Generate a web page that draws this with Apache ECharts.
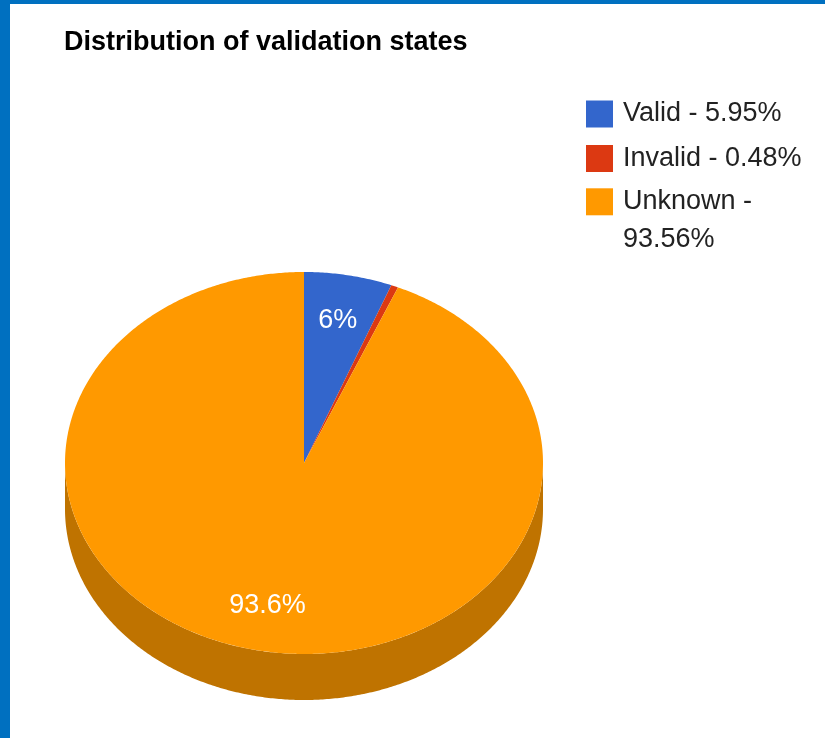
<!DOCTYPE html>
<html><head><meta charset="utf-8">
<script src="https://cdn.jsdelivr.net/npm/echarts@6/dist/echarts.min.js"></script>
<style>
html,body{margin:0;padding:0;background:#fff;}
#chart{position:absolute;left:0;top:0;width:825px;height:738px;}
#bl{position:absolute;left:0;top:0;width:10px;height:738px;background:#0070C0;}
#bt{position:absolute;left:0;top:0;width:825px;height:4px;background:#0070C0;}
</style></head><body>
<div id="chart"></div><div id="bl"></div><div id="bt"></div>
<script>
const titleText = 'Distribution of validation states';
const categories = ['Valid', 'Invalid', 'Unknown'];
const percents = [5.95, 0.48, 93.56];
const legendLabels = ['Valid - 5.95%', 'Invalid - 0.48%', '\nUnknown -\n93.56%'];
const colors = ['#3366CC', '#DC3912', '#FF9900'];
const sideColors = ['#264D99', '#A52B0E', '#BF7300'];

const FONT = '"Liberation Sans", Arial, Helvetica, sans-serif';
const CX = 304, CY = 463, RX = 239, RY = 191, DEPTH = 46, LABEL_R = 0.76;

const total = percents.reduce((a, b) => a + b, 0);
const starts = [];
(function () { let acc = 0; percents.forEach(v => { starts.push(acc / total * 2 * Math.PI); acc += v; }); })();
function angles(i) { return [starts[i], starts[i] + percents[i] / total * 2 * Math.PI]; }

function arc(a, b, dy) {
  const n = Math.max(2, Math.ceil((b - a) / (Math.PI / 360)));
  const pts = [];
  for (let k = 0; k <= n; k++) {
    const t = a + (b - a) * k / n;
    pts.push([CX + RX * Math.sin(t), CY + dy - RY * Math.cos(t)]);
  }
  return pts;
}
function fmtPct(v) { return (Math.round(v * 10) / 10) + '%'; }

function renderSide(params, api) {
  const i = params.dataIndex;
  const [a, b] = angles(i);
  const s = Math.max(a, Math.PI / 2), e = Math.min(b, 3 * Math.PI / 2);
  if (s >= e) return null;
  const top = arc(s, e, 0);
  const bot = arc(s, e, DEPTH).reverse();
  return { type: 'polygon', shape: { points: top.concat(bot) }, style: { fill: sideColors[i] }, silent: true };
}

function makeTop(i) {
  return function (params, api) {
    const [a, b] = angles(i);
    const pts = [[CX, CY]].concat(arc(a, b, 0));
    const children = [{ type: 'polygon', shape: { points: pts }, style: { fill: colors[i] } }];
    if (percents[i] >= 1) {
      const m = (a + b) / 2;
      children.push({
        type: 'text', z2: 100,
        x: CX + LABEL_R * RX * Math.sin(m), y: CY - LABEL_R * RY * Math.cos(m),
        style: { text: fmtPct(percents[i]), fill: '#ffffff', fontSize: 27, fontFamily: FONT, align: 'center', verticalAlign: 'middle' }
      });
    }
    return { type: 'group', children: children };
  };
}

const legendTops = [100.5, 145, 144.8];
const option = {
  animation: false,
  backgroundColor: '#ffffff',
  title: {
    text: titleText, left: 64, top: 29, padding: 0,
    textStyle: { fontSize: 27, fontWeight: 'bold', color: '#000', fontFamily: FONT }
  },
  legend: categories.map((c, i) => ({
    data: [c], orient: 'vertical', left: 586, top: legendTops[i], padding: 0,
    itemWidth: 27, itemHeight: 27, icon: 'rect', selectedMode: false,
    formatter: () => legendLabels[i],
    textStyle: { fontSize: 27, color: '#222', fontFamily: FONT, lineHeight: i === 2 ? 38 : 27, padding: [0, 0, 0, 5] }
  })),
  series: [{
    type: 'custom', name: 'sides', coordinateSystem: 'none', z: 1, silent: true,
    data: percents.map(v => [v]), renderItem: renderSide
  }].concat(categories.map((c, i) => ({
    type: 'custom', name: c, coordinateSystem: 'none', z: 2,
    itemStyle: { color: colors[i] },
    data: [[percents[i]]], renderItem: makeTop(i)
  })))
};
const chart = echarts.init(document.getElementById('chart'), null, { renderer: 'canvas' });
chart.setOption(option);
</script>
</body></html>
